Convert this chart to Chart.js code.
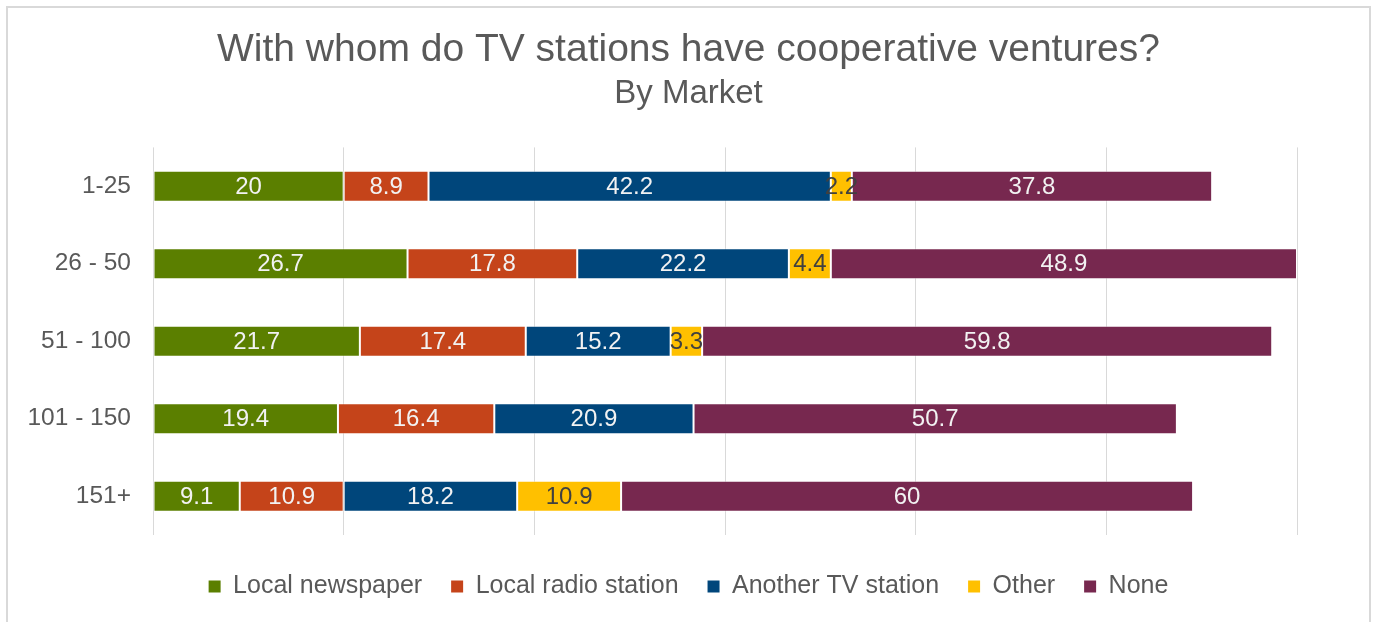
<!DOCTYPE html>
<html>
<head>
<meta charset="utf-8">
<title>With whom do TV stations have cooperative ventures?</title>
<script src="https://cdn.jsdelivr.net/npm/chart.js@4"></script>
<style>
  html, body { margin: 0; padding: 0; background: #ffffff; overflow: hidden; }
  #wrap { position: relative; width: 1377px; height: 622px; }
  #frame {
    position: absolute; left: 6px; top: 6px; width: 1365px; height: 640px;
    border: 2px solid #d9d9d9; pointer-events: none; box-sizing: border-box;
  }
</style>
</head>
<body>
<div id="wrap">
  <canvas id="chart" width="1377" height="622"></canvas>
  <div id="frame"></div>
</div>
<script>
// Market-size groups (rows, top to bottom)
const markets = ['1-25', '26 - 50', '51 - 100', '101 - 150', '151+'];

// Share of stations (%) per partner type, one value per market group
const localNewspaper   = [20, 26.7, 21.7, 19.4, 9.1];
const localRadio       = [8.9, 17.8, 17.4, 16.4, 10.9];
const anotherTV        = [42.2, 22.2, 15.2, 20.9, 18.2];
const otherPartner     = [2.2, 4.4, 3.3, null, 10.9];
const noPartner        = [37.8, 48.9, 59.8, 50.7, 60];

const seriesNames  = ['Local newspaper', 'Local radio station', 'Another TV station', 'Other', 'None'];
const seriesColors = ['#5b7f00', '#c5441a', '#00467b', '#ffc000', '#77284f'];
const seriesValues = [localNewspaper, localRadio, anotherTV, otherPartner, noPartner];

const FONT = "'Liberation Sans', Arial, sans-serif";
const GREY = '#595959';

// Writes each segment's value in the middle of its bar
const segmentLabels = {
  id: 'segmentLabels',
  afterDatasetsDraw(chart) {
    const ctx = chart.ctx;
    ctx.save();
    ctx.font = '24px ' + FONT;
    ctx.textAlign = 'center';
    ctx.textBaseline = 'middle';
    chart.data.datasets.forEach((ds, di) => {
      const meta = chart.getDatasetMeta(di);
      if (meta.hidden) return;
      meta.data.forEach((bar, i) => {
        const v = ds.data[i];
        if (v === null || v === undefined) return;
        const p = bar.getProps(['x', 'y', 'base'], true);
        ctx.fillStyle = di === 3 ? '#404040' : '#f2f2f2';
        ctx.fillText(String(v), (p.x + p.base) / 2, p.y + 1);
      });
    });
    ctx.restore();
  }
};

new Chart(document.getElementById('chart'), {
  type: 'bar',
  data: {
    labels: markets,
    datasets: seriesNames.map((name, k) => ({
      label: name,
      data: seriesValues[k],
      backgroundColor: seriesColors[k],
      borderColor: 'rgba(255,255,255,0.45)',
      borderWidth: 1,
      borderSkipped: false,
      barPercentage: 0.4,
      categoryPercentage: 1
    }))
  },
  options: {
    indexAxis: 'y',
    responsive: false,
    animation: false,
    layout: { padding: { left: 0, right: 0, top: 0, bottom: 13 } },
    scales: {
      x: {
        stacked: true,
        min: 0,
        max: 120,
        ticks: { display: false, stepSize: 20 },
        grid: { color: '#d9d9d9', lineWidth: 1, drawTicks: false },
        border: { display: false },
        afterFit(scale) { scale.height = 10; }
      },
      y: {
        stacked: true,
        ticks: { color: GREY, font: { family: FONT, size: 24.5 }, padding: 22 },
        grid: { display: false, drawTicks: false },
        border: { display: false },
        afterFit(scale) { scale.width = 153; }
      },
      // empty right-hand gutter so titles and legend stay centred on the page
      gutter: {
        type: 'category',
        axis: 'y',
        position: 'right',
        ticks: { display: false },
        grid: { display: false, drawTicks: false },
        border: { display: false },
        afterFit(scale) { scale.width = 80; }
      }
    },
    plugins: {
      title: {
        display: true,
        text: 'With whom do TV stations have cooperative ventures?',
        color: GREY,
        font: { family: FONT, size: 39, weight: 'normal' },
        padding: { top: 27, bottom: 0 }
      },
      subtitle: {
        display: true,
        text: 'By Market',
        color: GREY,
        font: { family: FONT, size: 33, weight: 'normal' },
        padding: { top: 0, bottom: 34 }
      },
      legend: {
        position: 'bottom',
        labels: {
          color: GREY,
          font: { family: FONT, size: 25 },
          boxWidth: 12,
          boxHeight: 12,
          padding: 29,
          generateLabels(chart) {
            return chart.data.datasets.map((ds, i) => ({
              text: ds.label,
              fillStyle: ds.backgroundColor,
              strokeStyle: ds.backgroundColor,
              lineWidth: 0,
              fontColor: GREY,
              hidden: false,
              datasetIndex: i
            }));
          }
        }
      },
      tooltip: { enabled: false }
    }
  },
  plugins: [segmentLabels]
});
</script>
</body>
</html>
